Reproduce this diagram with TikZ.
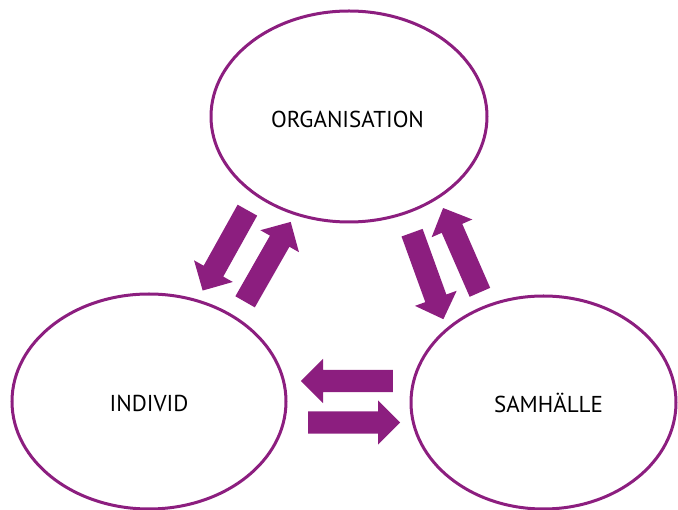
\documentclass[tikz,border=0pt]{standalone}
\usepackage{fontspec}
\setmainfont{PT Sans}
\usetikzlibrary{shapes.arrows}
\definecolor{purp}{RGB}{140,30,127}
\begin{document}
\begin{tikzpicture}[x=1pt,y=-1pt,
  barrow/.style={single arrow,fill=purp,draw=none,inner xsep=0pt,inner ysep=11pt,
     single arrow head extend=11pt,minimum height=92pt,
     single arrow tip angle=90,anchor=tail},
  lbl/.style={font=\fontsize{23}{23}\selectfont}]
\useasboundingbox (0,0) rectangle (678,510);
\draw[purp,line width=3pt] (349,116.5) ellipse [x radius=138,y radius=105.5];
\draw[purp,line width=3pt] (149,401.5) ellipse [x radius=137,y radius=107.5];
\draw[purp,line width=3pt] (543.5,402.5) ellipse [x radius=132.5,y radius=106.5];
\node[lbl] (org) at (347.5,119) {ORGANISATION};
\node[lbl] (ind) at (149,403) {INDIVID};
\node[lbl] (sam) at (548.5,403) {SAMHÄLLE};
\node[barrow,rotate=240.9] (a1) at (247.5,210) {};
\node[barrow,rotate=60.3] (a2) at (245,302) {};
\node[barrow,rotate=289.9] (a3) at (412,232.5) {};
\node[barrow,rotate=113.6] (a4) at (480,292.5) {};
\node[barrow,rotate=180] (a5) at (393,381) {};
\node[barrow,rotate=0] (a6) at (308,422.5) {};
\end{tikzpicture}
\end{document}
